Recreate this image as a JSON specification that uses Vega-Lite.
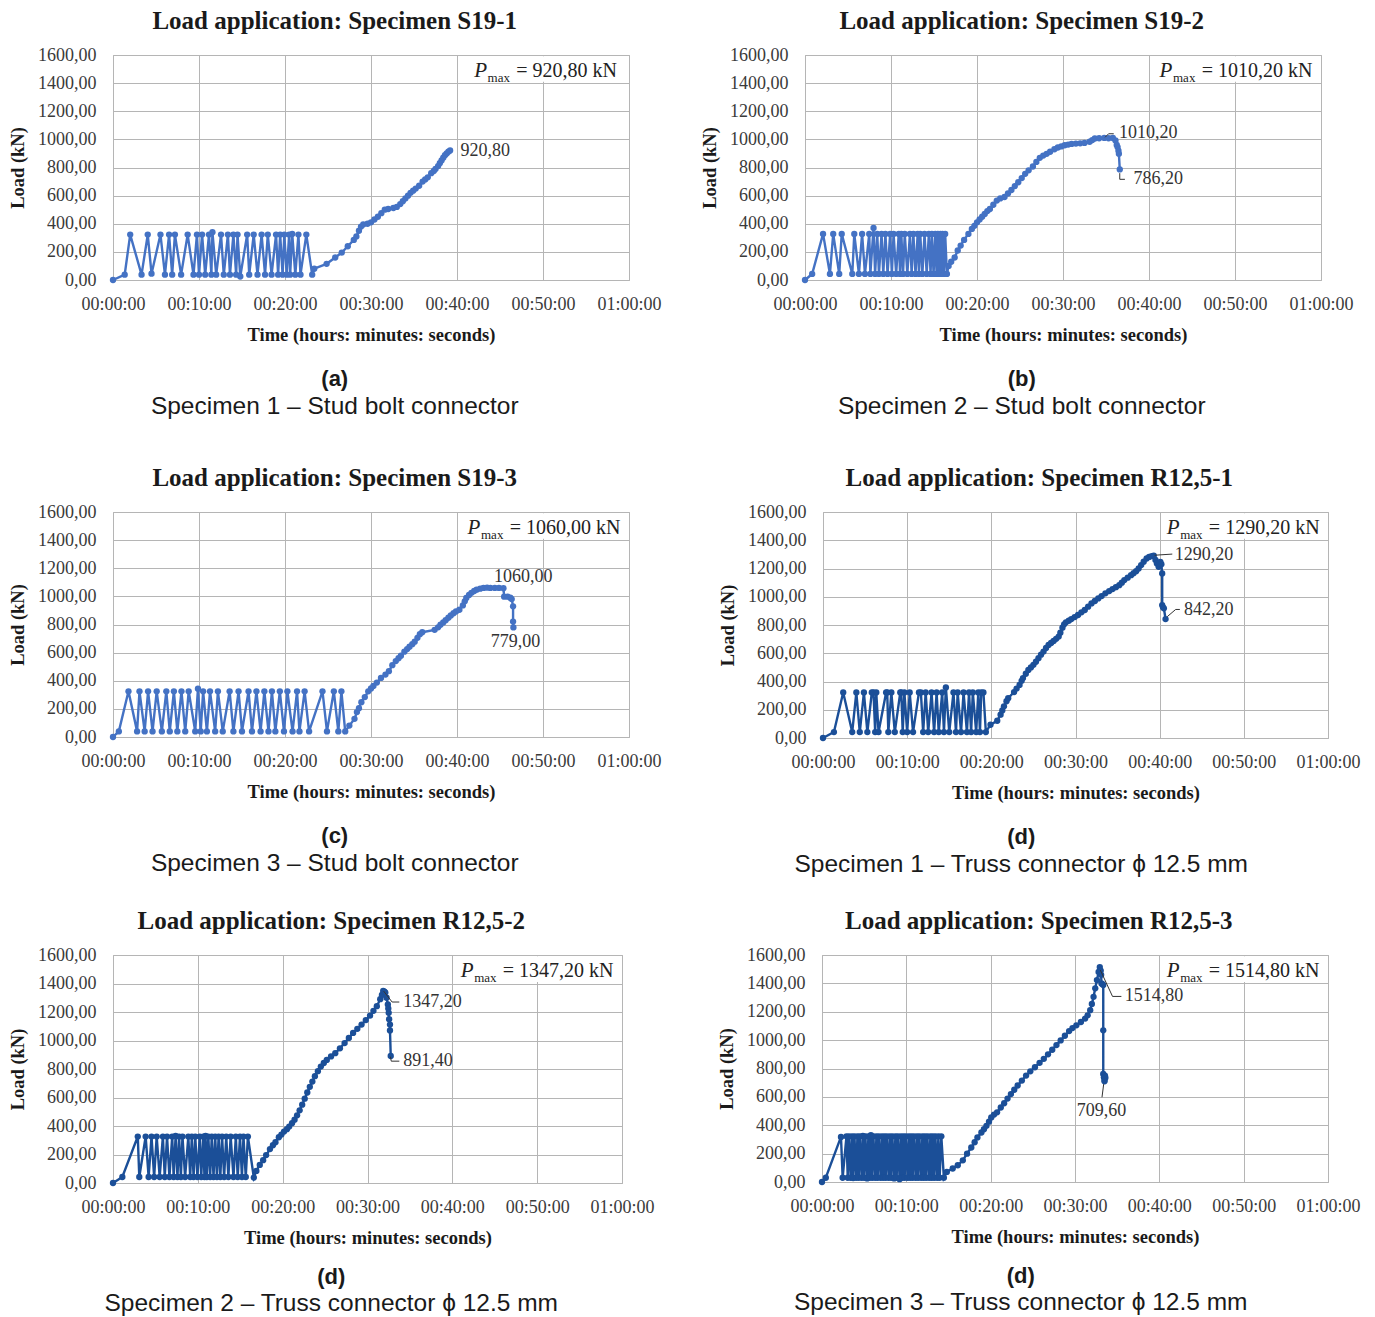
{
"$schema": "https://vega.github.io/schema/vega-lite/v6.json",
"padding": {"left": 8, "top": 8, "right": 4, "bottom": 0},
"background": "white",
"config": {
 "view": {"stroke": "#b5b5b5", "strokeWidth": 1},
 "axis": {"grid": true, "gridColor": "#b5b5b5", "gridWidth": 1, "domain": false, "ticks": false, "labelOverlap": false, "labelFont": "Liberation Serif", "labelFontSize": 18, "labelColor": "#3a3a3a", "titleFont": "Liberation Serif", "titleFontSize": 18.5, "titleFontWeight": "bold", "titleColor": "#1a1a1a"},
 "axisX": {"labelPadding": 15, "titlePadding": 12, "labelFlush": false},
 "axisY": {"labelPadding": 17, "titlePadding": 10},
 "text": {"font": "Liberation Serif", "fontSize": 18, "color": "#333333"}
},
"datasets": {
 "a": [{"t":0,"p":0},{"t":1.36,"p":38},{"t":2.0,"p":323},{"t":3.32,"p":38},{"t":4.04,"p":323},{"t":4.48,"p":45},{"t":5.52,"p":323},{"t":6.04,"p":38},{"t":6.52,"p":323},{"t":6.88,"p":38},{"t":7.2,"p":323},{"t":7.92,"p":38},{"t":8.68,"p":323},{"t":9.36,"p":38},{"t":9.76,"p":323},{"t":10.0,"p":38},{"t":10.36,"p":323},{"t":10.72,"p":38},{"t":11.16,"p":323},{"t":11.44,"p":38},{"t":11.56,"p":340},{"t":12.0,"p":38},{"t":12.56,"p":323},{"t":12.88,"p":38},{"t":13.36,"p":323},{"t":13.6,"p":38},{"t":14.0,"p":323},{"t":14.32,"p":38},{"t":14.48,"p":323},{"t":14.8,"p":25},{"t":15.6,"p":323},{"t":15.84,"p":38},{"t":16.36,"p":323},{"t":16.8,"p":38},{"t":17.28,"p":323},{"t":17.68,"p":38},{"t":18.0,"p":323},{"t":18.44,"p":38},{"t":18.96,"p":323},{"t":19.2,"p":38},{"t":19.44,"p":323},{"t":19.72,"p":38},{"t":19.92,"p":323},{"t":20.2,"p":38},{"t":20.48,"p":323},{"t":20.6,"p":38},{"t":20.84,"p":328},{"t":21.2,"p":38},{"t":21.56,"p":323},{"t":21.8,"p":38},{"t":22.48,"p":323},{"t":23.16,"p":38},{"t":23.4,"p":80},{"t":24.84,"p":115},{"t":25.84,"p":160},{"t":26.6,"p":195},{"t":27.3,"p":240},{"t":28.0,"p":285},{"t":28.3,"p":310},{"t":28.6,"p":350},{"t":28.84,"p":380},{"t":29.1,"p":395},{"t":29.6,"p":400},{"t":30.0,"p":410},{"t":30.4,"p":430},{"t":30.8,"p":450},{"t":31.2,"p":475},{"t":31.6,"p":500},{"t":32.0,"p":505},{"t":32.6,"p":512},{"t":33.0,"p":520},{"t":33.4,"p":540},{"t":33.7,"p":560},{"t":34.0,"p":580},{"t":34.3,"p":600},{"t":34.6,"p":620},{"t":34.9,"p":635},{"t":35.2,"p":650},{"t":35.6,"p":670},{"t":36.0,"p":700},{"t":36.3,"p":715},{"t":36.6,"p":730},{"t":37.0,"p":760},{"t":37.3,"p":775},{"t":37.5,"p":790},{"t":37.8,"p":810},{"t":38.0,"p":830},{"t":38.2,"p":850},{"t":38.4,"p":870},{"t":38.6,"p":887},{"t":38.8,"p":900},{"t":39.0,"p":912},{"t":39.2,"p":920.8}],
 "a_lab": [{"t":40.4,"p":915,"label":"920,80"}],
 "b": [{"t":0,"p":0},{"t":0.83,"p":43},{"t":2.1,"p":328},{"t":2.9,"p":43},{"t":3.28,"p":328},{"t":3.98,"p":43},{"t":4.27,"p":328},{"t":5.5,"p":43},{"t":5.73,"p":328},{"t":6.27,"p":43},{"t":6.64,"p":328},{"t":6.97,"p":43},{"t":7.47,"p":328},{"t":7.6,"p":43},{"t":7.97,"p":370},{"t":8.15,"p":43},{"t":8.4,"p":328},{"t":8.6,"p":43},{"t":8.9,"p":328},{"t":9.1,"p":43},{"t":9.35,"p":328},{"t":9.6,"p":43},{"t":9.9,"p":328},{"t":10.1,"p":43},{"t":10.3,"p":328},{"t":10.6,"p":43},{"t":10.9,"p":328},{"t":11.05,"p":43},{"t":11.2,"p":328},{"t":11.4,"p":43},{"t":11.6,"p":328},{"t":11.9,"p":43},{"t":12.2,"p":328},{"t":12.4,"p":43},{"t":12.6,"p":328},{"t":12.85,"p":43},{"t":13.1,"p":328},{"t":13.25,"p":43},{"t":13.4,"p":328},{"t":13.65,"p":43},{"t":13.9,"p":328},{"t":14.15,"p":43},{"t":14.4,"p":328},{"t":14.6,"p":43},{"t":14.75,"p":328},{"t":14.95,"p":43},{"t":15.15,"p":328},{"t":15.3,"p":43},{"t":15.45,"p":328},{"t":15.6,"p":43},{"t":15.75,"p":328},{"t":15.9,"p":43},{"t":16.0,"p":328},{"t":16.15,"p":43},{"t":16.3,"p":328},{"t":16.5,"p":43},{"t":16.7,"p":100},{"t":17.0,"p":130},{"t":17.4,"p":160},{"t":17.76,"p":210},{"t":18.1,"p":245},{"t":18.5,"p":285},{"t":19.0,"p":328},{"t":19.4,"p":363},{"t":19.7,"p":385},{"t":20.0,"p":410},{"t":20.3,"p":430},{"t":20.6,"p":450},{"t":20.9,"p":470},{"t":21.2,"p":490},{"t":21.5,"p":505},{"t":21.9,"p":535},{"t":22.3,"p":565},{"t":22.7,"p":580},{"t":23.2,"p":590},{"t":23.6,"p":615},{"t":24.0,"p":640},{"t":24.4,"p":668},{"t":24.8,"p":695},{"t":25.2,"p":725},{"t":25.6,"p":755},{"t":26.0,"p":780},{"t":26.5,"p":807},{"t":26.9,"p":840},{"t":27.3,"p":869},{"t":27.7,"p":885},{"t":28.1,"p":897},{"t":28.5,"p":912},{"t":29.0,"p":930},{"t":29.4,"p":942},{"t":29.8,"p":950},{"t":30.2,"p":958},{"t":30.6,"p":963},{"t":31.0,"p":968},{"t":31.5,"p":970},{"t":32.0,"p":972},{"t":32.5,"p":975},{"t":33.1,"p":983},{"t":33.4,"p":995},{"t":33.7,"p":1006},{"t":34.2,"p":1008},{"t":34.8,"p":1010.2},{"t":35.3,"p":1008},{"t":35.8,"p":1010},{"t":36.1,"p":992},{"t":36.25,"p":960},{"t":36.35,"p":945},{"t":36.45,"p":920},{"t":36.5,"p":897},{"t":36.6,"p":786.2}],
 "b_lab": [{"t":36.5,"p":1045,"label":"1010,20"},{"t":38.2,"p":716,"label":"786,20"}],
 "b_lead": [{"t":34.9,"p":1015,"t2":35.3,"p2":1040},{"t":35.3,"p":1040,"t2":35.9,"p2":1040},{"t":36.6,"p":760,"t2":36.6,"p2":716},{"t":36.6,"p":716,"t2":37.2,"p2":716}],
 "c": [{"t":0,"p":0},{"t":0.68,"p":40},{"t":1.8,"p":325},{"t":2.8,"p":40},{"t":3.08,"p":325},{"t":3.68,"p":40},{"t":4.08,"p":325},{"t":4.6,"p":40},{"t":5.08,"p":325},{"t":5.68,"p":40},{"t":6.2,"p":325},{"t":6.6,"p":40},{"t":7.08,"p":325},{"t":7.48,"p":40},{"t":7.96,"p":325},{"t":8.4,"p":40},{"t":8.8,"p":325},{"t":9.56,"p":40},{"t":9.88,"p":344},{"t":10.2,"p":40},{"t":10.48,"p":325},{"t":10.92,"p":40},{"t":11.28,"p":325},{"t":11.88,"p":40},{"t":12.2,"p":325},{"t":12.76,"p":40},{"t":13.56,"p":325},{"t":14.0,"p":40},{"t":14.6,"p":325},{"t":15.0,"p":40},{"t":15.76,"p":325},{"t":16.16,"p":40},{"t":16.68,"p":325},{"t":17.16,"p":40},{"t":17.6,"p":325},{"t":18.08,"p":40},{"t":18.48,"p":325},{"t":18.88,"p":40},{"t":19.4,"p":325},{"t":19.88,"p":40},{"t":20.28,"p":325},{"t":20.88,"p":40},{"t":21.4,"p":325},{"t":21.68,"p":40},{"t":22.28,"p":325},{"t":22.8,"p":40},{"t":24.36,"p":325},{"t":24.88,"p":40},{"t":25.68,"p":325},{"t":26.2,"p":40},{"t":26.56,"p":325},{"t":27.0,"p":40},{"t":27.48,"p":81},{"t":28.08,"p":129},{"t":28.36,"p":177},{"t":28.6,"p":205},{"t":28.88,"p":248},{"t":29.28,"p":284},{"t":29.68,"p":325},{"t":30.0,"p":345},{"t":30.28,"p":363},{"t":30.68,"p":387},{"t":31.16,"p":420},{"t":31.68,"p":444},{"t":32.08,"p":468},{"t":32.48,"p":511},{"t":32.88,"p":540},{"t":33.2,"p":560},{"t":33.48,"p":578},{"t":33.88,"p":607},{"t":34.2,"p":625},{"t":34.48,"p":642},{"t":34.8,"p":660},{"t":35.08,"p":678},{"t":35.4,"p":705},{"t":35.68,"p":731},{"t":35.96,"p":745},{"t":37.4,"p":762},{"t":37.8,"p":780},{"t":38.08,"p":798},{"t":38.4,"p":815},{"t":38.68,"p":831},{"t":39.0,"p":848},{"t":39.28,"p":864},{"t":39.6,"p":880},{"t":39.88,"p":893},{"t":40.28,"p":905},{"t":40.68,"p":936},{"t":40.9,"p":965},{"t":41.08,"p":989},{"t":41.4,"p":1010},{"t":41.68,"p":1025},{"t":42.0,"p":1038},{"t":42.28,"p":1048},{"t":42.7,"p":1055},{"t":43.08,"p":1060},{"t":43.5,"p":1062},{"t":43.88,"p":1060},{"t":44.4,"p":1060},{"t":44.88,"p":1060},{"t":45.4,"p":1058},{"t":45.48,"p":998},{"t":45.88,"p":998},{"t":46.2,"p":990},{"t":46.36,"p":981},{"t":46.52,"p":929},{"t":46.52,"p":821},{"t":46.56,"p":779}],
 "c_lab": [{"t":47.7,"p":1139,"label":"1060,00"},{"t":46.8,"p":678,"label":"779,00"}],
 "d": [{"t":0,"p":0},{"t":1.3,"p":42},{"t":2.4,"p":322},{"t":3.47,"p":42},{"t":3.96,"p":322},{"t":4.37,"p":42},{"t":4.86,"p":322},{"t":5.27,"p":42},{"t":5.8,"p":322},{"t":6.0,"p":322},{"t":6.2,"p":42},{"t":6.33,"p":322},{"t":6.6,"p":42},{"t":7.5,"p":322},{"t":7.63,"p":322},{"t":7.76,"p":42},{"t":8.12,"p":322},{"t":8.53,"p":42},{"t":9.18,"p":322},{"t":9.3,"p":322},{"t":9.47,"p":42},{"t":9.67,"p":322},{"t":10.0,"p":42},{"t":10.3,"p":322},{"t":10.7,"p":42},{"t":11.4,"p":322},{"t":11.63,"p":322},{"t":11.9,"p":42},{"t":12.2,"p":322},{"t":12.5,"p":42},{"t":12.9,"p":322},{"t":13.2,"p":42},{"t":13.5,"p":322},{"t":13.75,"p":42},{"t":14.16,"p":322},{"t":14.37,"p":42},{"t":14.6,"p":358},{"t":15.0,"p":42},{"t":15.5,"p":322},{"t":15.8,"p":42},{"t":16.0,"p":322},{"t":16.4,"p":42},{"t":16.7,"p":322},{"t":17.1,"p":42},{"t":17.35,"p":322},{"t":17.6,"p":42},{"t":17.8,"p":322},{"t":18.2,"p":42},{"t":18.45,"p":322},{"t":18.65,"p":42},{"t":18.8,"p":322},{"t":19.06,"p":322},{"t":19.35,"p":42},{"t":19.9,"p":94},{"t":20.7,"p":122},{"t":21.1,"p":165},{"t":21.3,"p":195},{"t":21.5,"p":224},{"t":21.8,"p":260},{"t":22.0,"p":282},{"t":22.7,"p":325},{"t":23.0,"p":350},{"t":23.35,"p":376},{"t":23.6,"p":405},{"t":23.76,"p":424},{"t":24.1,"p":455},{"t":24.4,"p":482},{"t":24.7,"p":500},{"t":25.0,"p":518},{"t":25.3,"p":540},{"t":25.6,"p":565},{"t":25.9,"p":590},{"t":26.2,"p":612},{"t":26.5,"p":637},{"t":26.8,"p":659},{"t":27.1,"p":673},{"t":27.4,"p":687},{"t":27.7,"p":702},{"t":28.0,"p":718},{"t":28.2,"p":745},{"t":28.45,"p":781},{"t":28.65,"p":805},{"t":28.86,"p":819},{"t":29.2,"p":830},{"t":29.5,"p":842},{"t":29.9,"p":856},{"t":30.3,"p":871},{"t":30.7,"p":890},{"t":31.1,"p":906},{"t":31.5,"p":930},{"t":31.9,"p":953},{"t":32.3,"p":970},{"t":32.7,"p":988},{"t":33.1,"p":1005},{"t":33.55,"p":1024},{"t":34.0,"p":1040},{"t":34.4,"p":1054},{"t":34.8,"p":1068},{"t":35.2,"p":1082},{"t":35.5,"p":1100},{"t":35.8,"p":1118},{"t":36.2,"p":1135},{"t":36.6,"p":1153},{"t":36.9,"p":1167},{"t":37.2,"p":1181},{"t":37.5,"p":1200},{"t":37.8,"p":1224},{"t":38.1,"p":1248},{"t":38.45,"p":1271},{"t":38.75,"p":1282},{"t":39.06,"p":1288},{"t":39.3,"p":1290.2},{"t":39.5,"p":1260},{"t":39.67,"p":1235},{"t":39.88,"p":1212},{"t":40.0,"p":1240},{"t":40.08,"p":1247},{"t":40.2,"p":1230},{"t":40.3,"p":1165},{"t":40.3,"p":941},{"t":40.4,"p":925},{"t":40.5,"p":918},{"t":40.7,"p":842.2}],
 "d_lab": [{"t":41.8,"p":1299,"label":"1290,20"},{"t":42.9,"p":906,"label":"842,20"}],
 "d_lead": [{"t":39.4,"p":1294,"t2":41.5,"p2":1302},{"t":40.9,"p":859,"t2":41.9,"p2":910},{"t":41.9,"p":910,"t2":42.4,"p2":910}],
 "e": [{"t":0,"p":0},{"t":1.1,"p":42},{"t":2.92,"p":326},{"t":3.1,"p":42},{"t":3.85,"p":326},{"t":4.2,"p":42},{"t":4.54,"p":326},{"t":4.85,"p":42},{"t":5.15,"p":326},{"t":5.5,"p":42},{"t":5.88,"p":326},{"t":6.1,"p":42},{"t":6.37,"p":326},{"t":6.65,"p":42},{"t":6.98,"p":326},{"t":7.15,"p":42},{"t":7.38,"p":330},{"t":7.6,"p":42},{"t":7.79,"p":326},{"t":8.0,"p":42},{"t":8.19,"p":326},{"t":8.5,"p":42},{"t":8.88,"p":326},{"t":9.1,"p":42},{"t":9.29,"p":326},{"t":9.5,"p":42},{"t":9.7,"p":326},{"t":9.95,"p":42},{"t":10.22,"p":326},{"t":10.4,"p":42},{"t":10.63,"p":326},{"t":10.78,"p":42},{"t":10.91,"p":330},{"t":11.05,"p":42},{"t":11.24,"p":326},{"t":11.45,"p":42},{"t":11.64,"p":326},{"t":11.85,"p":42},{"t":12.05,"p":326},{"t":12.25,"p":42},{"t":12.45,"p":326},{"t":12.65,"p":42},{"t":12.86,"p":326},{"t":13.1,"p":42},{"t":13.35,"p":326},{"t":13.6,"p":42},{"t":13.87,"p":326},{"t":14.2,"p":42},{"t":14.48,"p":326},{"t":14.7,"p":42},{"t":14.97,"p":326},{"t":15.2,"p":42},{"t":15.38,"p":326},{"t":15.65,"p":42},{"t":15.9,"p":326},{"t":16.6,"p":38},{"t":16.9,"p":85},{"t":17.3,"p":127},{"t":17.7,"p":160},{"t":18.05,"p":196},{"t":18.5,"p":238},{"t":18.85,"p":265},{"t":19.15,"p":286},{"t":19.55,"p":321},{"t":19.85,"p":340},{"t":20.16,"p":361},{"t":20.5,"p":378},{"t":20.77,"p":396},{"t":21.1,"p":420},{"t":21.4,"p":444},{"t":21.7,"p":475},{"t":22.0,"p":510},{"t":22.3,"p":550},{"t":22.6,"p":592},{"t":22.9,"p":635},{"t":23.2,"p":675},{"t":23.5,"p":712},{"t":23.8,"p":750},{"t":24.15,"p":785},{"t":24.5,"p":817},{"t":24.85,"p":842},{"t":25.2,"p":864},{"t":25.7,"p":888},{"t":26.2,"p":911},{"t":26.75,"p":945},{"t":27.3,"p":982},{"t":27.8,"p":1018},{"t":28.3,"p":1053},{"t":28.8,"p":1082},{"t":29.3,"p":1112},{"t":29.8,"p":1143},{"t":30.3,"p":1175},{"t":30.7,"p":1208},{"t":31.1,"p":1241},{"t":31.5,"p":1290},{"t":31.7,"p":1320},{"t":31.85,"p":1347.2},{"t":32.0,"p":1342},{"t":32.1,"p":1336},{"t":32.25,"p":1300},{"t":32.4,"p":1253},{"t":32.45,"p":1225},{"t":32.5,"p":1194},{"t":32.55,"p":1150},{"t":32.65,"p":1112},{"t":32.65,"p":1071},{"t":32.74,"p":891.4}],
 "e_lab": [{"t":34.2,"p":1270,"label":"1347,20"},{"t":34.2,"p":855,"label":"891,40"}],
 "e_lead": [{"t":31.9,"p":1347,"t2":32.9,"p2":1270},{"t":32.9,"p":1270,"t2":33.75,"p2":1270},{"t":32.7,"p":887,"t2":32.8,"p2":855},{"t":32.8,"p":855,"t2":33.75,"p2":855}],
 "f": [{"t":0,"p":0},{"t":0.45,"p":30},{"t":2.25,"p":318},{"t":2.45,"p":30},{"t":2.9,"p":322},{"t":3.05,"p":30},{"t":3.2,"p":322},{"t":3.4,"p":30},{"t":3.55,"p":322},{"t":3.7,"p":28},{"t":3.85,"p":322},{"t":4.05,"p":30},{"t":4.2,"p":322},{"t":4.35,"p":30},{"t":4.5,"p":322},{"t":4.7,"p":30},{"t":4.85,"p":325},{"t":5.0,"p":30},{"t":5.15,"p":322},{"t":5.35,"p":25},{"t":5.5,"p":322},{"t":5.65,"p":30},{"t":5.8,"p":330},{"t":5.95,"p":30},{"t":6.1,"p":322},{"t":6.3,"p":30},{"t":6.45,"p":322},{"t":6.6,"p":30},{"t":6.75,"p":322},{"t":6.95,"p":30},{"t":7.1,"p":322},{"t":7.25,"p":30},{"t":7.4,"p":322},{"t":7.55,"p":30},{"t":7.7,"p":322},{"t":7.9,"p":30},{"t":8.05,"p":322},{"t":8.2,"p":30},{"t":8.35,"p":322},{"t":8.55,"p":25},{"t":8.7,"p":322},{"t":8.85,"p":30},{"t":9.0,"p":322},{"t":9.2,"p":20},{"t":9.35,"p":322},{"t":9.5,"p":30},{"t":9.65,"p":322},{"t":9.8,"p":30},{"t":9.95,"p":322},{"t":10.15,"p":30},{"t":10.3,"p":322},{"t":10.45,"p":30},{"t":10.6,"p":322},{"t":10.75,"p":30},{"t":10.9,"p":322},{"t":11.1,"p":30},{"t":11.25,"p":322},{"t":11.4,"p":30},{"t":11.55,"p":322},{"t":11.75,"p":30},{"t":11.9,"p":322},{"t":12.05,"p":30},{"t":12.2,"p":322},{"t":12.35,"p":30},{"t":12.5,"p":322},{"t":12.7,"p":30},{"t":12.85,"p":322},{"t":13.0,"p":30},{"t":13.15,"p":322},{"t":13.3,"p":30},{"t":13.45,"p":322},{"t":13.65,"p":30},{"t":13.8,"p":322},{"t":13.95,"p":30},{"t":14.15,"p":322},{"t":14.45,"p":30},{"t":14.8,"p":71},{"t":15.5,"p":95},{"t":16.1,"p":118},{"t":16.7,"p":153},{"t":17.2,"p":200},{"t":17.7,"p":243},{"t":18.1,"p":280},{"t":18.43,"p":314},{"t":18.9,"p":349},{"t":19.2,"p":372},{"t":19.5,"p":396},{"t":19.8,"p":425},{"t":20.07,"p":455},{"t":20.4,"p":475},{"t":20.76,"p":491},{"t":21.2,"p":525},{"t":21.6,"p":555},{"t":22.0,"p":588},{"t":22.4,"p":620},{"t":22.8,"p":650},{"t":23.2,"p":680},{"t":23.7,"p":715},{"t":24.2,"p":750},{"t":24.7,"p":780},{"t":25.25,"p":809},{"t":25.8,"p":840},{"t":26.3,"p":868},{"t":26.8,"p":900},{"t":27.3,"p":932},{"t":27.8,"p":965},{"t":28.3,"p":998},{"t":28.8,"p":1031},{"t":29.3,"p":1064},{"t":29.7,"p":1085},{"t":30.16,"p":1104},{"t":30.7,"p":1128},{"t":31.2,"p":1152},{"t":31.5,"p":1175},{"t":31.8,"p":1211},{"t":32.0,"p":1255},{"t":32.2,"p":1305},{"t":32.4,"p":1365},{"t":32.6,"p":1423},{"t":32.8,"p":1480},{"t":32.94,"p":1514.8},{"t":33.05,"p":1490},{"t":33.1,"p":1460},{"t":33.14,"p":1399},{"t":33.25,"p":1395},{"t":33.35,"p":1388},{"t":33.35,"p":1069},{"t":33.35,"p":762},{"t":33.43,"p":739},{"t":33.5,"p":720},{"t":33.55,"p":750},{"t":33.6,"p":735},{"t":33.5,"p":709.6}],
 "f_lab": [{"t":35.9,"p":1308,"label":"1514,80"}],
 "f_lab2": [{"t":33.15,"p":503,"label":"709,60"}],
 "f_lead": [{"t":33.0,"p":1494,"t2":34.45,"p2":1308},{"t":34.45,"p":1308,"t2":35.5,"p2":1308},{"t":33.4,"p":690,"t2":33.2,"p2":597}]
},
"spacing": 46,
"vconcat": [
 {"hconcat": [
  {"title": {"text": "(a)", "subtitle": "Specimen 1 – Stud bolt connector", "orient": "bottom", "anchor": "middle", "frame": "bounds", "font": "Liberation Sans", "fontSize": 22, "fontWeight": "bold", "color": "#1a1a1a", "subtitleFont": "Liberation Sans", "subtitleFontSize": 24.5, "subtitleColor": "#1a1a1a", "subtitlePadding": 4, "offset": 25},
   "vconcat": [{"width": 516, "height": 225,
    "title": {"text": "Load application: Specimen S19-1", "font": "Liberation Serif", "fontSize": 25, "fontWeight": "bold", "color": "#1a1a1a", "anchor": "middle", "frame": "bounds", "offset": 12},
    "resolve": {"axis": {"x": "independent", "y": "independent"}},
    "layer": [
     {"data": {"name": "a"}, "mark": {"type": "line", "color": "#4472c4", "strokeWidth": 2.4, "point": {"filled": true, "size": 40, "color": "#4472c4"}},
      "encoding": {"x": {"field": "t", "type": "quantitative", "scale": {"domain": [0, 60], "nice": false}, "axis": {"values": [0,10,20,30,40,50,60], "labelExpr": "datum.value == 60 ? '01:00:00' : '00:' + (datum.value < 10 ? '0' : '') + datum.value + ':00'", "title": "Time (hours: minutes: seconds)"}},
       "y": {"field": "p", "type": "quantitative", "scale": {"domain": [0, 1600], "nice": false}, "axis": {"values": [0,200,400,600,800,1000,1200,1400,1600], "labelExpr": "replace(format(datum.value, '.2f'), '.', ',')", "title": "Load (kN)"}},
       "order": {"value": null}}},
     {"data": {"values": [{}]}, "mark": {"type": "rect", "fill": "white"}, "encoding": {"x": {"datum": 41, "type": "quantitative", "axis": null}, "x2": {"datum": 59.8}, "y": {"datum": 1410, "type": "quantitative", "axis": null}, "y2": {"datum": 1592}}},
     {"data": {"values": [{}]}, "mark": {"type": "text", "text": "= 920,80 kN", "align": "right", "baseline": "middle", "fontSize": 20, "color": "#222222"}, "encoding": {"x": {"datum": 58.6, "type": "quantitative", "axis": null}, "y": {"datum": 1488, "type": "quantitative", "axis": null}}},
     {"data": {"values": [{}]}, "mark": {"type": "text", "text": "max", "align": "right", "baseline": "middle", "fontSize": 13, "dx": -107, "dy": 7, "color": "#222222"}, "encoding": {"x": {"datum": 58.6, "type": "quantitative", "axis": null}, "y": {"datum": 1488, "type": "quantitative", "axis": null}}},
     {"data": {"values": [{}]}, "mark": {"type": "text", "text": "P", "align": "right", "baseline": "middle", "fontSize": 21, "fontStyle": "italic", "dx": -130, "color": "#222222"}, "encoding": {"x": {"datum": 58.6, "type": "quantitative", "axis": null}, "y": {"datum": 1488, "type": "quantitative", "axis": null}}},
     {"data": {"name": "a_lab"}, "mark": {"type": "text", "align": "left", "baseline": "middle"}, "encoding": {"x": {"field": "t", "type": "quantitative", "axis": null}, "y": {"field": "p", "type": "quantitative", "axis": null}, "text": {"field": "label"}}}
    ]}]},
  {"title": {"text": "(b)", "subtitle": "Specimen 2 – Stud bolt connector", "orient": "bottom", "anchor": "middle", "frame": "bounds", "dx": -5, "font": "Liberation Sans", "fontSize": 22, "fontWeight": "bold", "color": "#1a1a1a", "subtitleFont": "Liberation Sans", "subtitleFontSize": 24.5, "subtitleColor": "#1a1a1a", "subtitlePadding": 4, "offset": 25},
   "vconcat": [{"width": 516, "height": 225,
    "title": {"text": "Load application: Specimen S19-2", "font": "Liberation Serif", "fontSize": 25, "fontWeight": "bold", "color": "#1a1a1a", "anchor": "middle", "frame": "bounds", "dx": -5, "offset": 12},
    "resolve": {"axis": {"x": "independent", "y": "independent"}},
    "layer": [
     {"data": {"name": "b"}, "mark": {"type": "line", "color": "#4472c4", "strokeWidth": 2.4, "point": {"filled": true, "size": 40, "color": "#4472c4"}},
      "encoding": {"x": {"field": "t", "type": "quantitative", "scale": {"domain": [0, 60], "nice": false}, "axis": {"values": [0,10,20,30,40,50,60], "labelExpr": "datum.value == 60 ? '01:00:00' : '00:' + (datum.value < 10 ? '0' : '') + datum.value + ':00'", "title": "Time (hours: minutes: seconds)"}},
       "y": {"field": "p", "type": "quantitative", "scale": {"domain": [0, 1600], "nice": false}, "axis": {"values": [0,200,400,600,800,1000,1200,1400,1600], "labelExpr": "replace(format(datum.value, '.2f'), '.', ',')", "title": "Load (kN)"}},
       "order": {"value": null}}},
     {"data": {"values": [{}]}, "mark": {"type": "rect", "fill": "white"}, "encoding": {"x": {"datum": 41, "type": "quantitative", "axis": null}, "x2": {"datum": 59.8}, "y": {"datum": 1410, "type": "quantitative", "axis": null}, "y2": {"datum": 1592}}},
     {"data": {"values": [{}]}, "mark": {"type": "text", "text": "= 1010,20 kN", "align": "right", "baseline": "middle", "fontSize": 20, "color": "#222222"}, "encoding": {"x": {"datum": 59.0, "type": "quantitative", "axis": null}, "y": {"datum": 1488, "type": "quantitative", "axis": null}}},
     {"data": {"values": [{}]}, "mark": {"type": "text", "text": "max", "align": "right", "baseline": "middle", "fontSize": 13, "dx": -117, "dy": 7, "color": "#222222"}, "encoding": {"x": {"datum": 59.0, "type": "quantitative", "axis": null}, "y": {"datum": 1488, "type": "quantitative", "axis": null}}},
     {"data": {"values": [{}]}, "mark": {"type": "text", "text": "P", "align": "right", "baseline": "middle", "fontSize": 21, "fontStyle": "italic", "dx": -140, "color": "#222222"}, "encoding": {"x": {"datum": 59.0, "type": "quantitative", "axis": null}, "y": {"datum": 1488, "type": "quantitative", "axis": null}}},
     {"data": {"name": "b_lead"}, "mark": {"type": "rule", "color": "#333333", "strokeWidth": 1}, "encoding": {"x": {"field": "t", "type": "quantitative", "axis": null}, "y": {"field": "p", "type": "quantitative", "axis": null}, "x2": {"field": "t2"}, "y2": {"field": "p2"}}},
     {"data": {"name": "b_lab"}, "mark": {"type": "text", "align": "left", "baseline": "middle"}, "encoding": {"x": {"field": "t", "type": "quantitative", "axis": null}, "y": {"field": "p", "type": "quantitative", "axis": null}, "text": {"field": "label"}}}
    ]}]}
 ], "spacing": 38},
 {"spacing": 31, "vconcat": [
 {"hconcat": [
  {"title": {"text": "(c)", "subtitle": "Specimen 3 – Stud bolt connector", "orient": "bottom", "anchor": "middle", "frame": "bounds", "font": "Liberation Sans", "fontSize": 22, "fontWeight": "bold", "color": "#1a1a1a", "subtitleFont": "Liberation Sans", "subtitleFontSize": 24.5, "subtitleColor": "#1a1a1a", "subtitlePadding": 4, "offset": 25},
   "vconcat": [{"width": 516, "height": 225,
    "title": {"text": "Load application: Specimen S19-3", "font": "Liberation Serif", "fontSize": 25, "fontWeight": "bold", "color": "#1a1a1a", "anchor": "middle", "frame": "bounds", "offset": 12},
    "resolve": {"axis": {"x": "independent", "y": "independent"}},
    "layer": [
     {"data": {"name": "c"}, "mark": {"type": "line", "color": "#4472c4", "strokeWidth": 2.4, "point": {"filled": true, "size": 40, "color": "#4472c4"}},
      "encoding": {"x": {"field": "t", "type": "quantitative", "scale": {"domain": [0, 60], "nice": false}, "axis": {"values": [0,10,20,30,40,50,60], "labelExpr": "datum.value == 60 ? '01:00:00' : '00:' + (datum.value < 10 ? '0' : '') + datum.value + ':00'", "title": "Time (hours: minutes: seconds)"}},
       "y": {"field": "p", "type": "quantitative", "scale": {"domain": [0, 1600], "nice": false}, "axis": {"values": [0,200,400,600,800,1000,1200,1400,1600], "labelExpr": "replace(format(datum.value, '.2f'), '.', ',')", "title": "Load (kN)"}},
       "order": {"value": null}}},
     {"data": {"values": [{}]}, "mark": {"type": "rect", "fill": "white"}, "encoding": {"x": {"datum": 41, "type": "quantitative", "axis": null}, "x2": {"datum": 59.8}, "y": {"datum": 1410, "type": "quantitative", "axis": null}, "y2": {"datum": 1592}}},
     {"data": {"values": [{}]}, "mark": {"type": "text", "text": "= 1060,00 kN", "align": "right", "baseline": "middle", "fontSize": 20, "color": "#222222"}, "encoding": {"x": {"datum": 59.0, "type": "quantitative", "axis": null}, "y": {"datum": 1488, "type": "quantitative", "axis": null}}},
     {"data": {"values": [{}]}, "mark": {"type": "text", "text": "max", "align": "right", "baseline": "middle", "fontSize": 13, "dx": -117, "dy": 7, "color": "#222222"}, "encoding": {"x": {"datum": 59.0, "type": "quantitative", "axis": null}, "y": {"datum": 1488, "type": "quantitative", "axis": null}}},
     {"data": {"values": [{}]}, "mark": {"type": "text", "text": "P", "align": "right", "baseline": "middle", "fontSize": 21, "fontStyle": "italic", "dx": -140, "color": "#222222"}, "encoding": {"x": {"datum": 59.0, "type": "quantitative", "axis": null}, "y": {"datum": 1488, "type": "quantitative", "axis": null}}},
     {"data": {"name": "c_lab"}, "mark": {"type": "text", "align": "center", "baseline": "middle"}, "encoding": {"x": {"field": "t", "type": "quantitative", "axis": null}, "y": {"field": "p", "type": "quantitative", "axis": null}, "text": {"field": "label"}}}
    ]}]},
  {"title": {"text": "(d)", "subtitle": "Specimen 1 – Truss connector ϕ 12.5 mm", "orient": "bottom", "anchor": "middle", "frame": "bounds", "dx": -18, "font": "Liberation Sans", "fontSize": 22, "fontWeight": "bold", "color": "#1a1a1a", "subtitleFont": "Liberation Sans", "subtitleFontSize": 24.5, "subtitleColor": "#1a1a1a", "subtitlePadding": 4, "offset": 25},
   "vconcat": [{"width": 505, "height": 226,
    "title": {"text": "Load application: Specimen R12,5-1", "font": "Liberation Serif", "fontSize": 25, "fontWeight": "bold", "color": "#1a1a1a", "anchor": "middle", "frame": "bounds", "offset": 12},
    "resolve": {"axis": {"x": "independent", "y": "independent"}},
    "layer": [
     {"data": {"name": "d"}, "mark": {"type": "line", "color": "#1b4f98", "strokeWidth": 2.4, "point": {"filled": true, "size": 40, "color": "#1b4f98"}},
      "encoding": {"x": {"field": "t", "type": "quantitative", "scale": {"domain": [0, 60], "nice": false}, "axis": {"values": [0,10,20,30,40,50,60], "labelExpr": "datum.value == 60 ? '01:00:00' : '00:' + (datum.value < 10 ? '0' : '') + datum.value + ':00'", "title": "Time (hours: minutes: seconds)"}},
       "y": {"field": "p", "type": "quantitative", "scale": {"domain": [0, 1600], "nice": false}, "axis": {"values": [0,200,400,600,800,1000,1200,1400,1600], "labelExpr": "replace(format(datum.value, '.2f'), '.', ',')", "title": "Load (kN)"}},
       "order": {"value": null}}},
     {"data": {"values": [{}]}, "mark": {"type": "rect", "fill": "white"}, "encoding": {"x": {"datum": 41, "type": "quantitative", "axis": null}, "x2": {"datum": 59.8}, "y": {"datum": 1410, "type": "quantitative", "axis": null}, "y2": {"datum": 1592}}},
     {"data": {"values": [{}]}, "mark": {"type": "text", "text": "= 1290,20 kN", "align": "right", "baseline": "middle", "fontSize": 20, "color": "#222222"}, "encoding": {"x": {"datum": 59.0, "type": "quantitative", "axis": null}, "y": {"datum": 1488, "type": "quantitative", "axis": null}}},
     {"data": {"values": [{}]}, "mark": {"type": "text", "text": "max", "align": "right", "baseline": "middle", "fontSize": 13, "dx": -117, "dy": 7, "color": "#222222"}, "encoding": {"x": {"datum": 59.0, "type": "quantitative", "axis": null}, "y": {"datum": 1488, "type": "quantitative", "axis": null}}},
     {"data": {"values": [{}]}, "mark": {"type": "text", "text": "P", "align": "right", "baseline": "middle", "fontSize": 21, "fontStyle": "italic", "dx": -140, "color": "#222222"}, "encoding": {"x": {"datum": 59.0, "type": "quantitative", "axis": null}, "y": {"datum": 1488, "type": "quantitative", "axis": null}}},
     {"data": {"name": "d_lead"}, "mark": {"type": "rule", "color": "#333333", "strokeWidth": 1}, "encoding": {"x": {"field": "t", "type": "quantitative", "axis": null}, "y": {"field": "p", "type": "quantitative", "axis": null}, "x2": {"field": "t2"}, "y2": {"field": "p2"}}},
     {"data": {"name": "d_lab"}, "mark": {"type": "text", "align": "left", "baseline": "middle"}, "encoding": {"x": {"field": "t", "type": "quantitative", "axis": null}, "y": {"field": "p", "type": "quantitative", "axis": null}, "text": {"field": "label"}}}
    ]}]}
 ], "spacing": 56},
 {"hconcat": [
  {"title": {"text": "(d)", "subtitle": "Specimen 2 – Truss connector ϕ 12.5 mm", "orient": "bottom", "anchor": "middle", "frame": "bounds", "font": "Liberation Sans", "fontSize": 22, "fontWeight": "bold", "color": "#1a1a1a", "subtitleFont": "Liberation Sans", "subtitleFontSize": 24.5, "subtitleColor": "#1a1a1a", "subtitlePadding": 3, "offset": 20},
   "vconcat": [{"width": 509, "height": 228,
    "title": {"text": "Load application: Specimen R12,5-2", "font": "Liberation Serif", "fontSize": 25, "fontWeight": "bold", "color": "#1a1a1a", "anchor": "middle", "frame": "bounds", "offset": 12},
    "resolve": {"axis": {"x": "independent", "y": "independent"}},
    "layer": [
     {"data": {"name": "e"}, "mark": {"type": "line", "color": "#1b4f98", "strokeWidth": 2.4, "point": {"filled": true, "size": 40, "color": "#1b4f98"}},
      "encoding": {"x": {"field": "t", "type": "quantitative", "scale": {"domain": [0, 60], "nice": false}, "axis": {"values": [0,10,20,30,40,50,60], "labelExpr": "datum.value == 60 ? '01:00:00' : '00:' + (datum.value < 10 ? '0' : '') + datum.value + ':00'", "title": "Time (hours: minutes: seconds)"}},
       "y": {"field": "p", "type": "quantitative", "scale": {"domain": [0, 1600], "nice": false}, "axis": {"values": [0,200,400,600,800,1000,1200,1400,1600], "labelExpr": "replace(format(datum.value, '.2f'), '.', ',')", "title": "Load (kN)"}},
       "order": {"value": null}}},
     {"data": {"values": [{}]}, "mark": {"type": "rect", "fill": "white"}, "encoding": {"x": {"datum": 41, "type": "quantitative", "axis": null}, "x2": {"datum": 59.8}, "y": {"datum": 1410, "type": "quantitative", "axis": null}, "y2": {"datum": 1592}}},
     {"data": {"values": [{}]}, "mark": {"type": "text", "text": "= 1347,20 kN", "align": "right", "baseline": "middle", "fontSize": 20, "color": "#222222"}, "encoding": {"x": {"datum": 59.0, "type": "quantitative", "axis": null}, "y": {"datum": 1488, "type": "quantitative", "axis": null}}},
     {"data": {"values": [{}]}, "mark": {"type": "text", "text": "max", "align": "right", "baseline": "middle", "fontSize": 13, "dx": -117, "dy": 7, "color": "#222222"}, "encoding": {"x": {"datum": 59.0, "type": "quantitative", "axis": null}, "y": {"datum": 1488, "type": "quantitative", "axis": null}}},
     {"data": {"values": [{}]}, "mark": {"type": "text", "text": "P", "align": "right", "baseline": "middle", "fontSize": 21, "fontStyle": "italic", "dx": -140, "color": "#222222"}, "encoding": {"x": {"datum": 59.0, "type": "quantitative", "axis": null}, "y": {"datum": 1488, "type": "quantitative", "axis": null}}},
     {"data": {"name": "e_lead"}, "mark": {"type": "rule", "color": "#333333", "strokeWidth": 1}, "encoding": {"x": {"field": "t", "type": "quantitative", "axis": null}, "y": {"field": "p", "type": "quantitative", "axis": null}, "x2": {"field": "t2"}, "y2": {"field": "p2"}}},
     {"data": {"name": "e_lab"}, "mark": {"type": "text", "align": "left", "baseline": "middle"}, "encoding": {"x": {"field": "t", "type": "quantitative", "axis": null}, "y": {"field": "p", "type": "quantitative", "axis": null}, "text": {"field": "label"}}}
    ]}]},
  {"title": {"text": "(d)", "subtitle": "Specimen 3 – Truss connector ϕ 12.5 mm", "orient": "bottom", "anchor": "middle", "frame": "bounds", "dx": -18, "font": "Liberation Sans", "fontSize": 22, "fontWeight": "bold", "color": "#1a1a1a", "subtitleFont": "Liberation Sans", "subtitleFontSize": 24.5, "subtitleColor": "#1a1a1a", "subtitlePadding": 3, "offset": 20},
   "vconcat": [{"width": 506, "height": 227,
    "title": {"text": "Load application: Specimen R12,5-3", "font": "Liberation Serif", "fontSize": 25, "fontWeight": "bold", "color": "#1a1a1a", "anchor": "middle", "frame": "bounds", "offset": 12},
    "resolve": {"axis": {"x": "independent", "y": "independent"}},
    "layer": [
     {"data": {"name": "f"}, "mark": {"type": "line", "color": "#1b4f98", "strokeWidth": 2.4, "point": {"filled": true, "size": 40, "color": "#1b4f98"}},
      "encoding": {"x": {"field": "t", "type": "quantitative", "scale": {"domain": [0, 60], "nice": false}, "axis": {"values": [0,10,20,30,40,50,60], "labelExpr": "datum.value == 60 ? '01:00:00' : '00:' + (datum.value < 10 ? '0' : '') + datum.value + ':00'", "title": "Time (hours: minutes: seconds)"}},
       "y": {"field": "p", "type": "quantitative", "scale": {"domain": [0, 1600], "nice": false}, "axis": {"values": [0,200,400,600,800,1000,1200,1400,1600], "labelExpr": "replace(format(datum.value, '.2f'), '.', ',')", "title": "Load (kN)"}},
       "order": {"value": null}}},
     {"data": {"values": [{}]}, "mark": {"type": "rect", "fill": "white"}, "encoding": {"x": {"datum": 41, "type": "quantitative", "axis": null}, "x2": {"datum": 59.8}, "y": {"datum": 1410, "type": "quantitative", "axis": null}, "y2": {"datum": 1592}}},
     {"data": {"values": [{}]}, "mark": {"type": "text", "text": "= 1514,80 kN", "align": "right", "baseline": "middle", "fontSize": 20, "color": "#222222"}, "encoding": {"x": {"datum": 59.0, "type": "quantitative", "axis": null}, "y": {"datum": 1488, "type": "quantitative", "axis": null}}},
     {"data": {"values": [{}]}, "mark": {"type": "text", "text": "max", "align": "right", "baseline": "middle", "fontSize": 13, "dx": -117, "dy": 7, "color": "#222222"}, "encoding": {"x": {"datum": 59.0, "type": "quantitative", "axis": null}, "y": {"datum": 1488, "type": "quantitative", "axis": null}}},
     {"data": {"values": [{}]}, "mark": {"type": "text", "text": "P", "align": "right", "baseline": "middle", "fontSize": 21, "fontStyle": "italic", "dx": -140, "color": "#222222"}, "encoding": {"x": {"datum": 59.0, "type": "quantitative", "axis": null}, "y": {"datum": 1488, "type": "quantitative", "axis": null}}},
     {"data": {"name": "f_lead"}, "mark": {"type": "rule", "color": "#333333", "strokeWidth": 1}, "encoding": {"x": {"field": "t", "type": "quantitative", "axis": null}, "y": {"field": "p", "type": "quantitative", "axis": null}, "x2": {"field": "t2"}, "y2": {"field": "p2"}}},
     {"data": {"name": "f_lab"}, "mark": {"type": "text", "align": "left", "baseline": "middle"}, "encoding": {"x": {"field": "t", "type": "quantitative", "axis": null}, "y": {"field": "p", "type": "quantitative", "axis": null}, "text": {"field": "label"}}},
     {"data": {"name": "f_lab2"}, "mark": {"type": "text", "align": "center", "baseline": "middle"}, "encoding": {"x": {"field": "t", "type": "quantitative", "axis": null}, "y": {"field": "p", "type": "quantitative", "axis": null}, "text": {"field": "label"}}}
    ]}]}
 ], "spacing": 62}
 ]}
]
}
